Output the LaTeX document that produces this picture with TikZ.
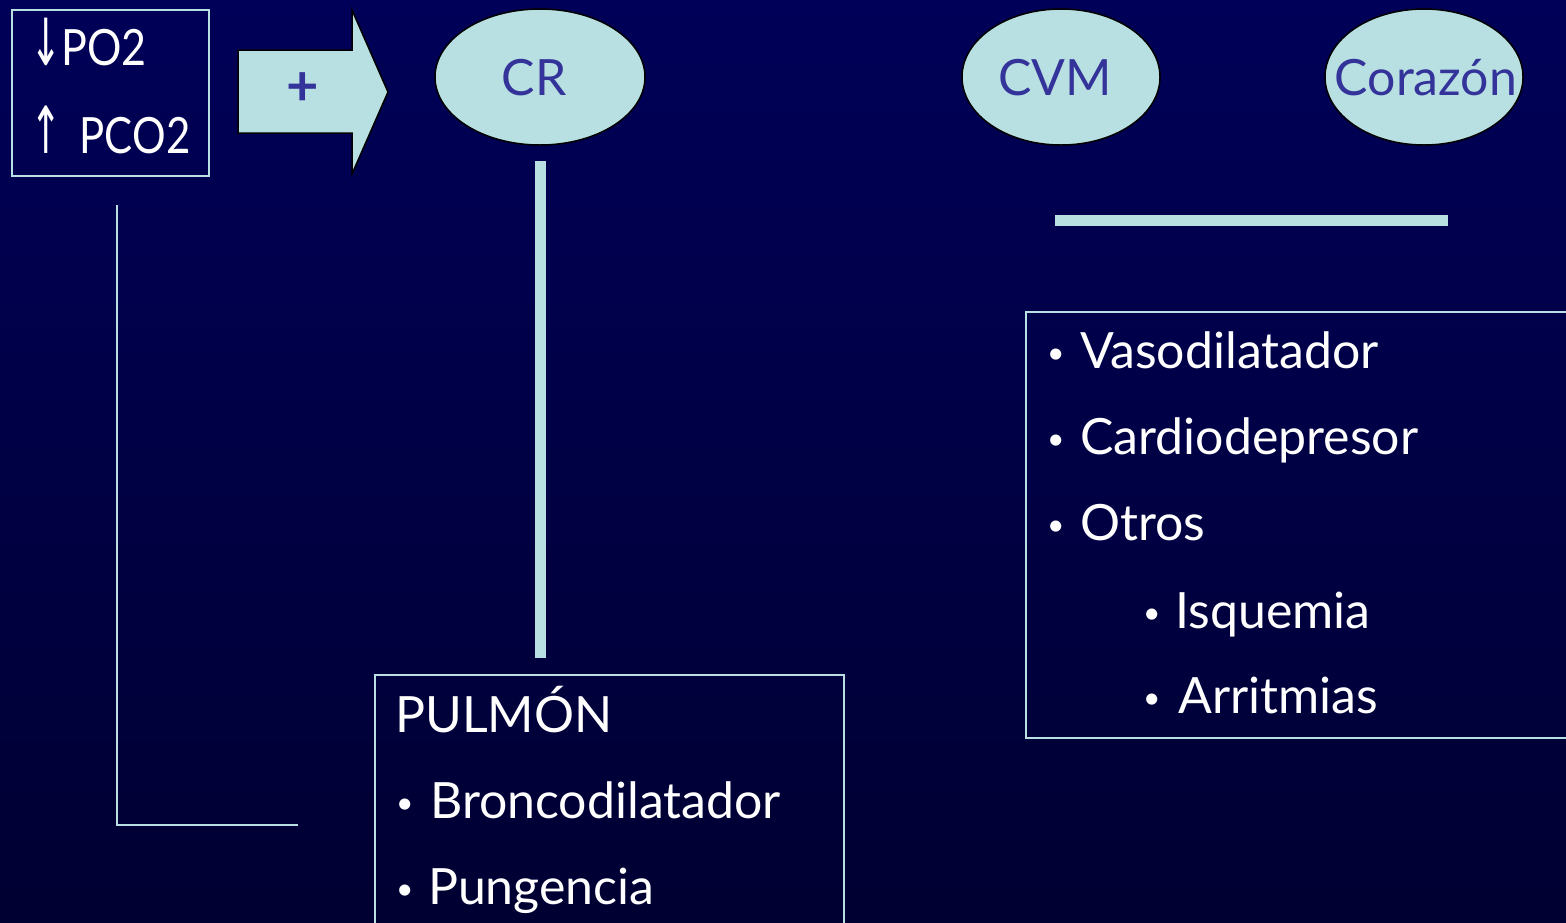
\documentclass[tikz,border=0pt]{standalone}
\usepackage{fontspec}
\setmainfont{Lato}
\newfontfamily\symfont{DejaVu Sans}
\usetikzlibrary{shapes.geometric,calc}
\definecolor{bgtop}{HTML}{000058}
\definecolor{bgbot}{HTML}{000032}
\definecolor{pale}{HTML}{B8E0E2}
\definecolor{ink}{HTML}{333399}
\newcommand\bulitem[2]{\makebox[#1][l]{\fontsize{30}{30}\selectfont\raisebox{5pt}{•}}#2}
\newcommand\thinarrow[1]{\scalebox{0.75}[1.3]{\symfont #1}}
\tikzset{
  frame/.style={draw=pale, line width=2pt, inner sep=0pt, anchor=north west},
  ell/.style={ellipse, draw=black, line width=1.5pt, fill=pale, inner sep=0pt},
  eltxt/.style={text=ink, font=\fontsize{50}{60}\selectfont, inner sep=0pt},
  txt/.style={text=white, font=\fontsize{50}{60}\selectfont, inner sep=0pt, anchor=base west},
  bar/.style={draw=pale, line width=11pt, line cap=butt},
  thinline/.style={draw=pale, line width=2pt}
}
\begin{document}
\begin{tikzpicture}[x=1pt,y=-1pt]
\useasboundingbox (0,0) rectangle (1566,922);
\clip (0,0) rectangle (1566,922);
\shade[top color=bgtop, bottom color=bgbot] (0,0) rectangle (1566,922);

% source box
\node[frame, minimum width=197pt, minimum height=166pt] (src) at (11,9) {};
\node[txt] (po2) at (30,65) {\thinarrow{↓}\scalebox{0.86}[1]{PO2}};
\node[txt] (pco2) at (30,153) {\thinarrow{↑}\hspace{18pt}\scalebox{0.84}[1]{PCO2}};

% block arrow
\draw[fill=pale, draw=black, line width=1.5pt, line join=miter]
  (238,50) -- (352,50) -- (352,10) -- (388,92) -- (352,174) -- (352,133) -- (238,133) -- cycle;
\node[text=ink, font=\fontsize{56}{60}\selectfont\bfseries, inner sep=0pt] (plus) at (303,89) {+};

% ellipses
\node[ell, minimum width=210pt, minimum height=136pt] (cr) at (540,77) {};
\node[eltxt] at (534,78) {CR};
\node[ell, minimum width=198pt, minimum height=136pt] (cvm) at (1061,77) {};
\node[eltxt] at (1055,78) {CVM};
\node[ell, minimum width=198pt, minimum height=136pt] (cor) at (1424,77) {};
\node[eltxt] at (1426,78) {Corazón};

% PULMON box
\node[frame, minimum width=469pt, minimum height=270pt] (pulm) at (374,674) {};
\node[txt] at (395,732) {PULMÓN};
\node[txt] at (396,818) {\bulitem{34pt}{Broncodilatador}};
\node[txt] at (396,904) {\bulitem{32pt}{Pungencia}};

% right box
\node[frame, minimum width=560pt, minimum height=426pt] (rbox) at (1025,311) {};
\node[txt] at (1047,368) {\bulitem{33pt}{Vasodilatador}};
\node[txt] at (1047,454) {\bulitem{33pt}{Cardiodepresor}};
\node[txt] at (1047,540) {\bulitem{33pt}{Otros}};
\node[txt] at (1143,628) {\bulitem{32pt}{Isquemia}};
\node[txt] at (1143,713) {\bulitem{35pt}{Arritmias}};

% bars
\draw[bar] ($(cr.south)+(0,15)$) -- ($(cr.south |- pulm.north)+(0,-16)$);
\coordinate (hbl) at (1055,220.5);
\coordinate (hbr) at (1448,220.5);
\draw[bar] (hbl) -- (hbr);

% L-shaped line
\coordinate (lt) at (117,205);
\coordinate (lb) at (298,825);
\draw[thinline] (lt) |- (lb);
\end{tikzpicture}
\end{document}
